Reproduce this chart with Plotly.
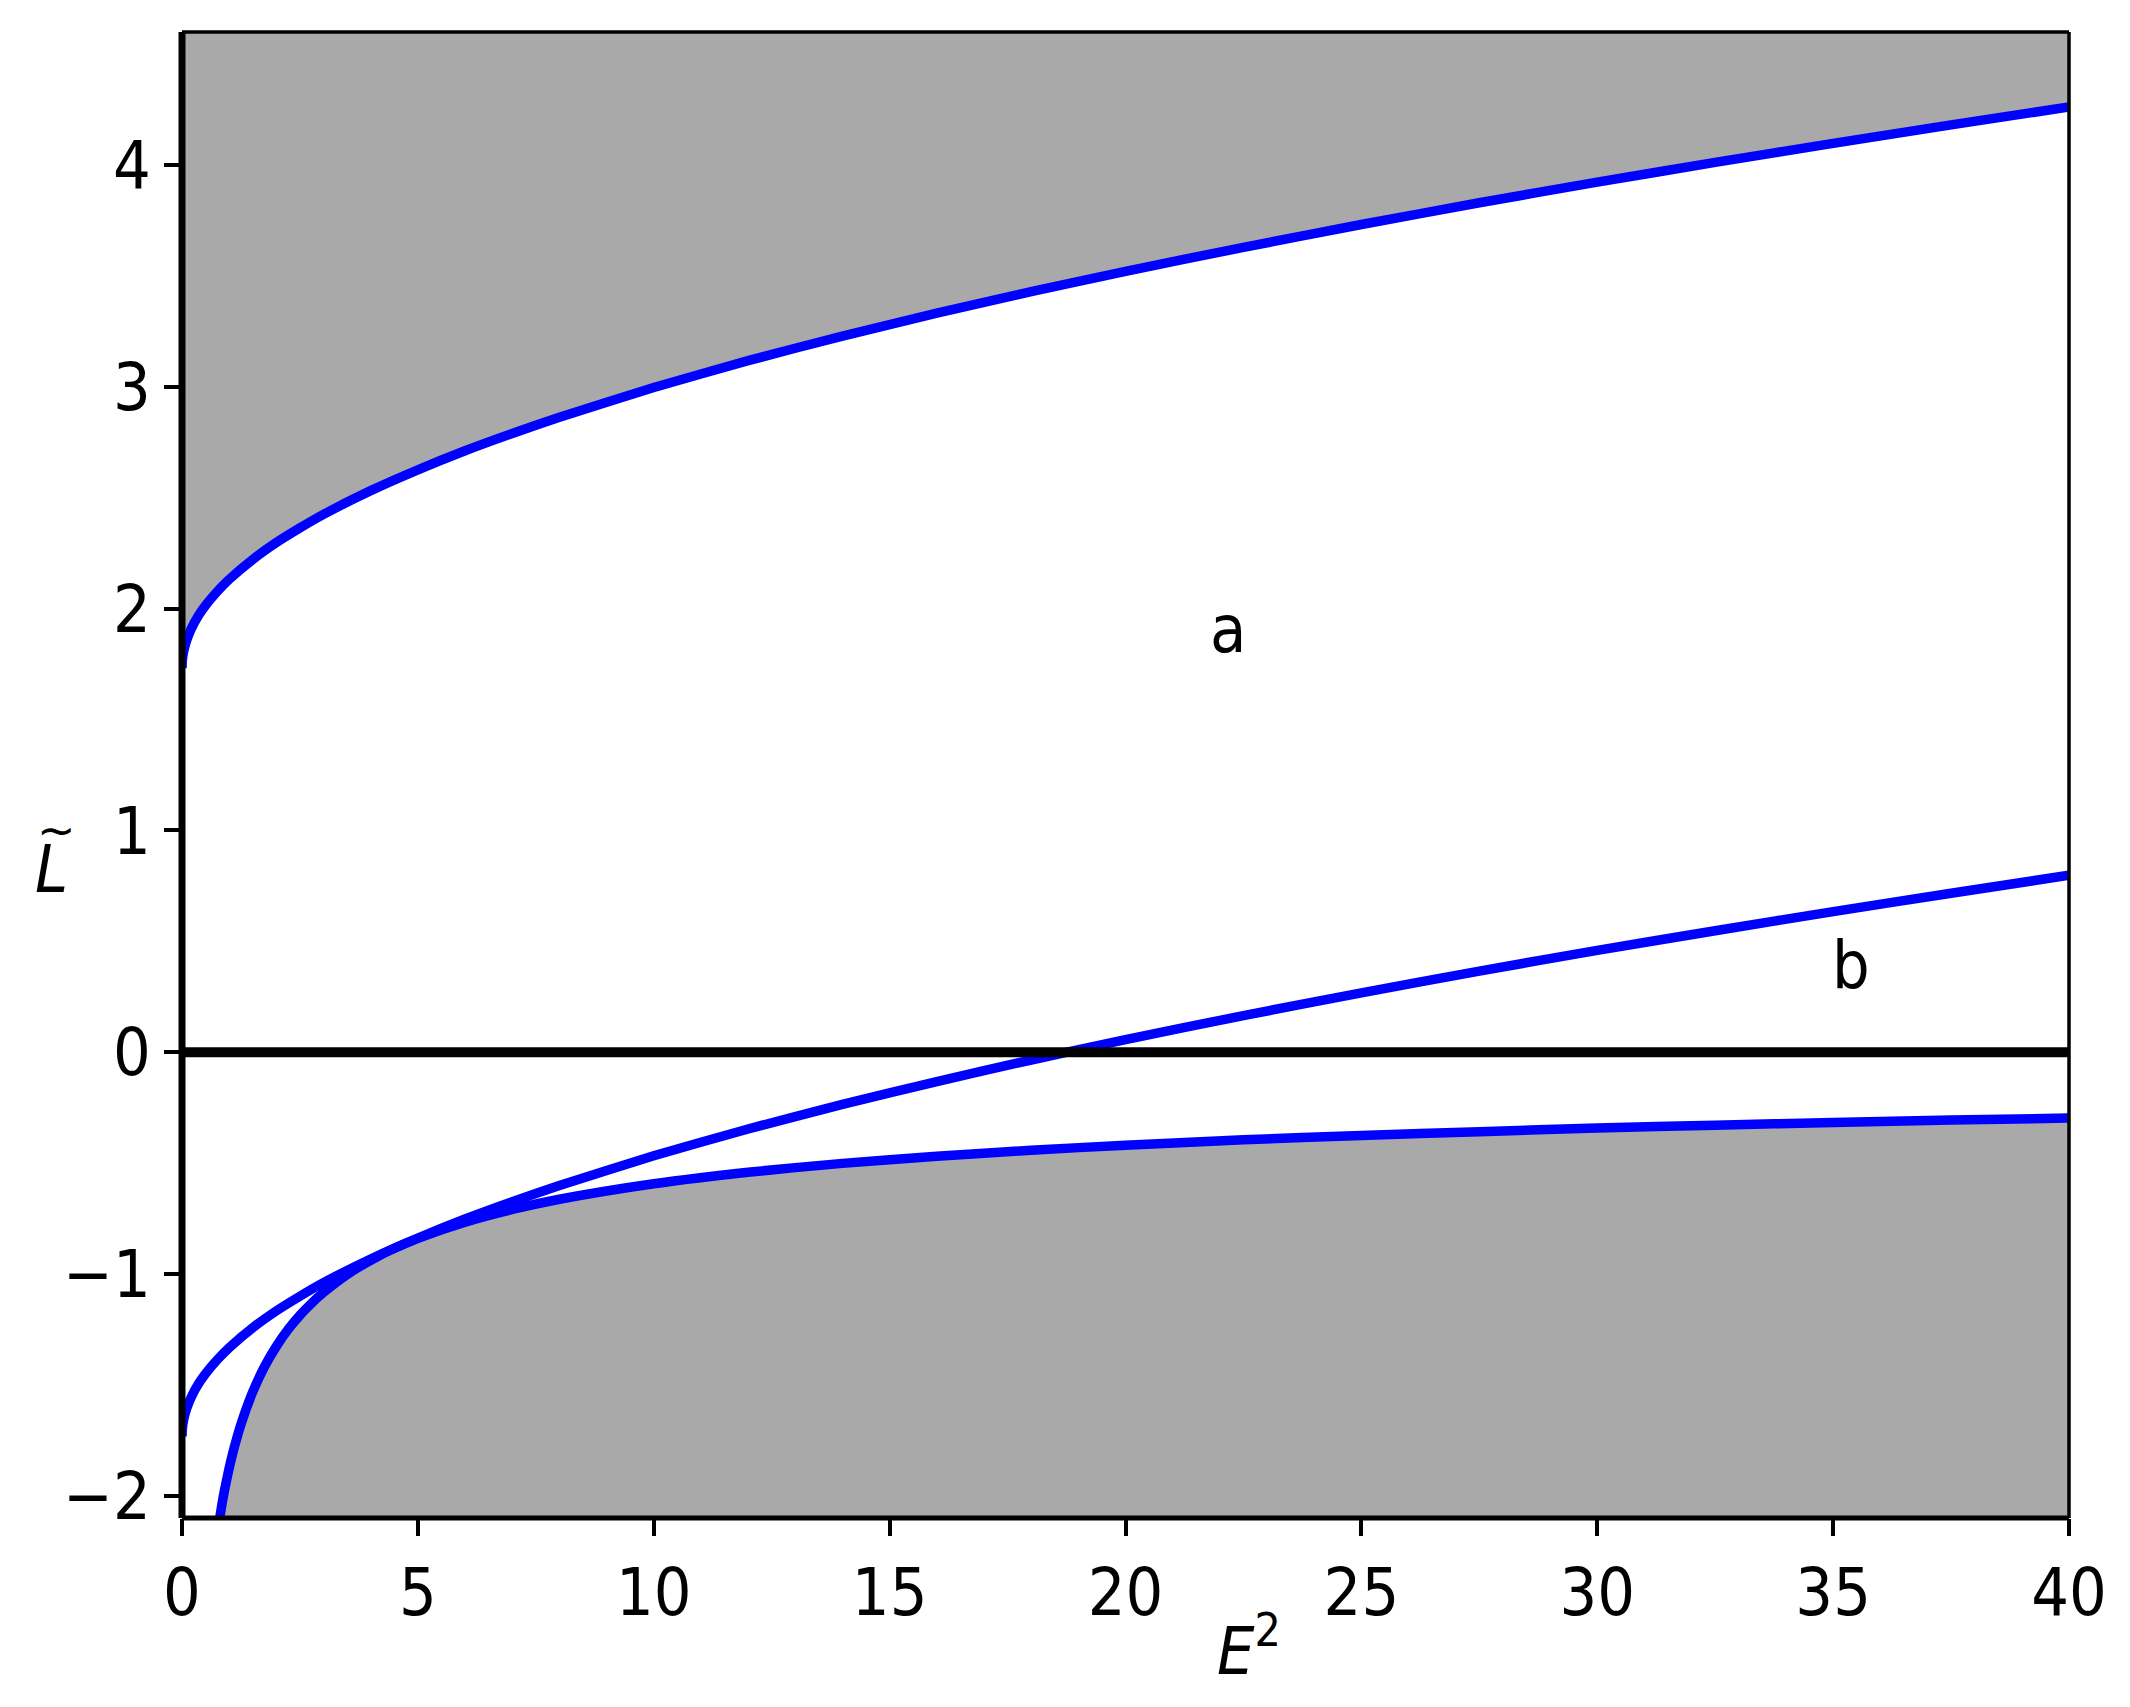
import plotly.graph_objects as go

# ---- data ----
E2 = [0, 0.005, 0.01, 0.02, 0.05, 0.1, 0.2, 0.35, 0.5, 0.75, 1, 1.5, 2, 2.5, 3, 4, 5,
      6, 7, 8, 10, 12, 14, 16, 18, 20, 22.5, 25, 27.5, 30, 32.5, 35, 37.5, 40]
L_upper = [1.732, 1.760, 1.772, 1.789, 1.821, 1.858, 1.911, 1.969, 2.015, 2.078,
           2.132, 2.222, 2.298, 2.364, 2.425, 2.532, 2.626, 2.712, 2.790, 2.863,
           2.997, 3.118, 3.229, 3.332, 3.429, 3.521, 3.629, 3.732, 3.830, 3.923,
           4.012, 4.098, 4.181, 4.262]
L_mid = [-1.732, -1.704, -1.692, -1.675, -1.643, -1.606, -1.553, -1.495, -1.449,
         -1.386, -1.332, -1.242, -1.166, -1.100, -1.039, -0.932, -0.838, -0.752,
         -0.674, -0.601, -0.467, -0.346, -0.235, -0.132, -0.035, 0.057, 0.165,
         0.268, 0.366, 0.459, 0.548, 0.634, 0.717, 0.798]
E2_low = [0.75, 0.85, 0.9, 1, 1.1, 1.25, 1.5, 1.75, 2, 2.25, 2.5, 2.75, 3, 3.5, 4,
          4.5, 5, 6, 7, 8, 10, 12, 14, 16, 18, 20, 22.5, 25, 27.5, 30, 32.5, 35,
          37.5, 40]
L_low = [-2.165, -2.034, -1.976, -1.875, -1.788, -1.677, -1.531, -1.417, -1.326,
         -1.250, -1.186, -1.131, -1.083, -1.002, -0.938, -0.884, -0.839, -0.766,
         -0.709, -0.663, -0.593, -0.541, -0.501, -0.469, -0.442, -0.419, -0.395,
         -0.375, -0.358, -0.342, -0.329, -0.317, -0.306, -0.297]

X_RANGE = [0, 40]
Y_RANGE = [-2.1, 4.6]
X_TICKS = [0, 5, 10, 15, 20, 25, 30, 35, 40]
Y_TICKS = [-2, -1, 0, 1, 2, 3, 4]
Y_TICK_TEXT = ["\u22122", "\u22121", "0", "1", "2", "3", "4"]
LABELS = {"a": (21.75, 1.905), "b": (34.93, 0.391)}

GRAY = "#a9a9a9"
BLUE = "#0000ff"
FONT = "DejaVu Sans Condensed, DejaVu Sans"
FS = 66

# page body has an 8px margin; compensate so the plot area lands where the reference has it
PAGE = 8
W, H = 2130 - PAGE, 1707 - PAGE
ML, MR, MT, MB = 182 - PAGE, 61, 32 - PAGE, 189

fig = go.Figure()

fig.add_trace(go.Scatter(
    x=E2 + [X_RANGE[1], X_RANGE[0]],
    y=L_upper + [Y_RANGE[1] + 1, Y_RANGE[1] + 1],
    fill="toself", fillcolor=GRAY, mode="none", hoverinfo="skip"))
fig.add_trace(go.Scatter(
    x=E2_low + [X_RANGE[1], E2_low[0]],
    y=L_low + [Y_RANGE[0] - 1, Y_RANGE[0] - 1],
    fill="toself", fillcolor=GRAY, mode="none", hoverinfo="skip"))

for xs, ys in [(E2, L_upper), (E2, L_mid), (E2_low, L_low)]:
    fig.add_trace(go.Scatter(x=xs, y=ys, mode="lines",
                             line=dict(color=BLUE, width=9.5, shape="spline", smoothing=0.6),
                             hoverinfo="skip"))

for k, (lx, ly) in LABELS.items():
    fig.add_annotation(x=lx, y=ly, xref="x", yref="y", text=k, showarrow=False,
                       xanchor="left", yanchor="middle",
                       font=dict(family=FONT, size=FS, color="black"))

# y-axis label: italic L with a wide tilde accent above it
fig.add_annotation(x=-0.0689, y=0.4367, xref="paper", yref="paper",
                   text="<i>L</i>", showarrow=False, xanchor="center", yanchor="middle",
                   font=dict(family=FONT, size=FS, color="black"))
fig.add_annotation(x=-0.0665, y=0.463, xref="paper", yref="paper",
                   text="~", showarrow=False, xanchor="center", yanchor="middle",
                   font=dict(family="DejaVu Sans", size=46, color="black"))
fig.add_annotation(x=0.5655, y=-0.0868, xref="paper", yref="paper",
                   text="<i>E</i><sup>2</sup>", showarrow=False, xanchor="center", yanchor="middle",
                   font=dict(family=FONT, size=FS, color="black"))

fig.add_shape(type="line", xref="paper", yref="y", x0=0, x1=1, y0=0, y1=0,
              line=dict(color="black", width=10), layer="above")
spines = [(0, 0, 0, 1, 7), (0, 1, 0, 0, 5), (1, 1, 0, 1, 3.5), (0, 1, 1, 1, 3.5)]
for x0, x1, y0, y1, w in spines:
    fig.add_shape(type="line", xref="paper", yref="paper", x0=x0, x1=x1, y0=y0, y1=y1,
                  line=dict(color="black", width=w), layer="above")

axis_common = dict(showgrid=False, zeroline=False, showline=False, ticks="outside",
                   ticklen=17, tickwidth=4, tickcolor="black",
                   tickfont=dict(family=FONT, size=FS, color="black"))
fig.update_xaxes(range=X_RANGE, tickmode="array", tickvals=X_TICKS,
                 ticktext=[str(t) for t in X_TICKS], **axis_common)
fig.update_yaxes(range=Y_RANGE, tickmode="array", tickvals=Y_TICKS,
                 ticktext=Y_TICK_TEXT, **axis_common)

fig.update_layout(width=W, height=H, margin=dict(l=ML, r=MR, t=MT, b=MB),
                  plot_bgcolor="white", paper_bgcolor="white", showlegend=False)

fig.write_html("out.html")
